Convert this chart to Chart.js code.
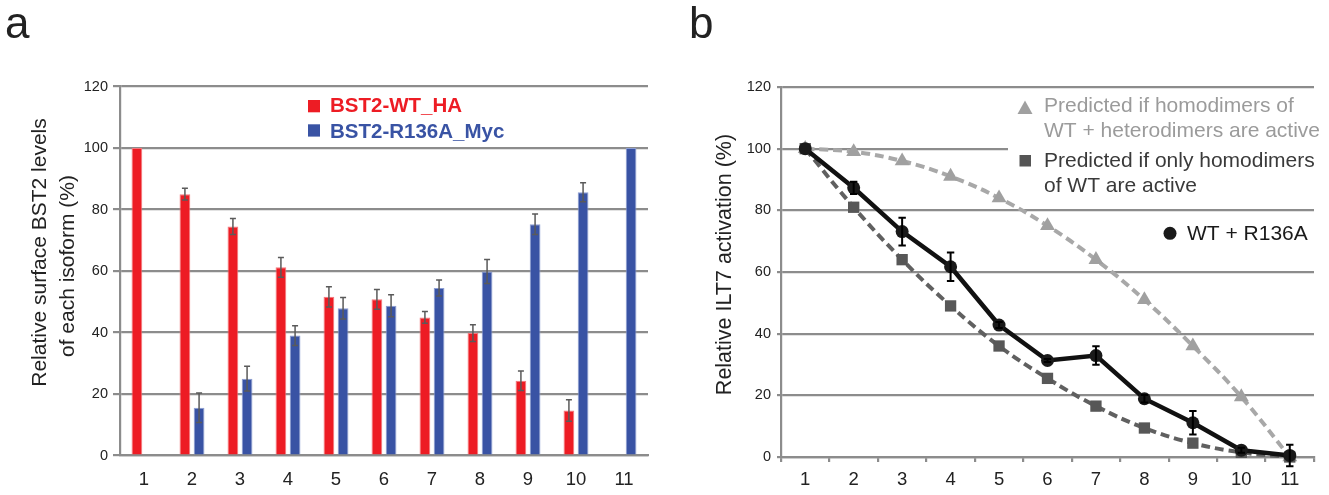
<!DOCTYPE html>
<html><head><meta charset="utf-8">
<script src="https://cdn.jsdelivr.net/npm/chart.js@4/dist/chart.umd.min.js"></script>
<style>
html,body{margin:0;padding:0;background:#fff;}
#wrap{position:relative;width:1329px;height:495px;overflow:hidden;background:#fff;}
.pane{position:absolute;top:0;height:495px;}
</style></head><body>
<div id="wrap">
<div class="pane" style="left:0;width:665px"><canvas id="ca"></canvas></div>
<div class="pane" style="left:665px;width:664px"><canvas id="cb"></canvas></div>
</div>
<script>
// ---- data ----
const categories = ['1','2','3','4','5','6','7','8','9','10','11'];
const yTicks = [0, 20, 40, 60, 80, 100, 120];

// panel a: relative surface BST2 levels (%)
const wtHA        = [100, 85, 74.5, 61.2, 51.6, 50.8, 44.9, 39.8, 24.3, 14.6, null];
const wtHAErr     = [0, 1.9, 2.6, 3.2, 3.3, 3.2, 1.9, 2.7, 3.2, 3.5, 0];
const r136aMyc    = [null, 15.5, 25, 39, 47.9, 48.7, 54.5, 59.8, 75.2, 85.6, 100];
const r136aMycErr = [0, 4.8, 4, 3.2, 3.5, 3.6, 2.6, 3.9, 3.3, 3.1, 0];

// panel b: relative ILT7 activation (%)
const hetActive   = [100, 99, 96, 91, 84, 75, 64, 51, 36, 19.5, 0];
const homoOnly    = [100, 81, 64, 49, 36, 25.5, 16.5, 9.4, 4.5, 1.5, 0];
const wtR136A     = [100, 87.3, 73.1, 61.7, 42.8, 31.3, 32.9, 18.9, 11.1, 2.2, 0.5];
const wtR136AErr  = [0, 2, 4.5, 4.6, 1, 0.5, 3, 1.2, 3.8, 0.8, 3.5];

const legendA = ['BST2-WT_HA', 'BST2-R136A_Myc'];
const legendB = [['Predicted if homodimers of', 'WT + heterodimers are active'],
                 ['Predicted if only homodimers', 'of WT are active'],
                 ['WT + R136A']];
const titleA = ['Relative surface BST2 levels', 'of each isoform (%)'];
const titleB = 'Relative ILT7 activation (%)';

// ---- styling ----
const FONT = '"Liberation Sans", Arial, Helvetica, sans-serif';
const GRID = '#8c8c8c';
Chart.defaults.font.family = FONT;
Chart.defaults.color = '#222';

const errorBars = {
  id: 'errorBars',
  afterDatasetsDraw(chart) {
    const ctx = chart.ctx, ys = chart.scales.y;
    chart.data.datasets.forEach((ds, di) => {
      if (!ds.errors) return;
      const meta = chart.getDatasetMeta(di);
      meta.data.forEach((el, i) => {
        const v = ds.data[i], e = ds.errors[i];
        if (v == null || !e) return;
        const x = el.x;
        const yt = ys.getPixelForValue(v + e), yb = ys.getPixelForValue(v - e);
        const c = ds.errorCap;
        ctx.save();
        ctx.strokeStyle = ds.errorColor;
        ctx.lineWidth = ds.errorWidth;
        ctx.beginPath();
        ctx.moveTo(x, yt); ctx.lineTo(x, yb);
        ctx.moveTo(x - c, yt); ctx.lineTo(x + c, yt);
        ctx.moveTo(x - c, yb); ctx.lineTo(x + c, yb);
        ctx.stroke();
        ctx.restore();
      });
    });
  }
};

function yScale(width, tickLen, pad) {
  return {
    min: 0, max: 120,
    afterBuildTicks: s => { s.ticks = yTicks.map(v => ({ value: v })); },
    afterFit: s => { s.width = width; },
    ticks: { font: { size: 14.5 }, color: '#222', padding: pad },
    grid: { color: GRID, lineWidth: 2.2, tickLength: tickLen, drawTicks: true },
    border: { color: GRID, width: 2.2 }
  };
}

// ---- panel a ----
const textA = {
  id: 'textA',
  afterDraw(chart) {
    const ctx = chart.ctx;
    ctx.save();
    ctx.fillStyle = '#222';
    ctx.font = '44px ' + FONT;
    ctx.textBaseline = 'alphabetic';
    ctx.textAlign = 'left';
    ctx.fillText('a', 5, 38);
    // y title
    ctx.font = '21px ' + FONT;
    ctx.textAlign = 'center';
    ctx.save(); ctx.translate(45.5, 252.5); ctx.rotate(-Math.PI / 2); ctx.fillText(titleA[0], 0, 0); ctx.restore();
    ctx.save(); ctx.translate(73.5, 266); ctx.rotate(-Math.PI / 2); ctx.fillText(titleA[1], 0, 0); ctx.restore();
    // legend
    const cols = ['#ed1c24', '#3953a4'];
    ctx.textAlign = 'left';
    ctx.font = 'bold 20.5px ' + FONT;
    [[100, 112.3], [124.3, 138.3]].forEach((p, i) => {
      ctx.fillStyle = cols[i];
      ctx.fillRect(308, p[0], 12, 12.3);
      ctx.fillText(legendA[i], 330, p[1]);
    });
    ctx.restore();
  }
};

new Chart(document.getElementById('ca'), {
  type: 'bar',
  data: {
    labels: categories,
    datasets: [
      { label: legendA[0], data: wtHA, errors: wtHAErr,
        backgroundColor: '#ed1c24', borderColor: '#f2777c', borderWidth: 1,
        errorColor: '#5a5a5a', errorWidth: 1.5, errorCap: 3,
        categoryPercentage: 0.59, barPercentage: 0.76 },
      { label: legendA[1], data: r136aMyc, errors: r136aMycErr,
        backgroundColor: '#3953a4', borderColor: '#8c9dd2', borderWidth: 1,
        errorColor: '#5a5a5a', errorWidth: 1.5, errorCap: 3,
        categoryPercentage: 0.59, barPercentage: 0.76 }
    ]
  },
  options: {
    responsive: true, maintainAspectRatio: false, animation: false,
    layout: { padding: { left: 0, right: 17, top: 86.5, bottom: 0 } },
    plugins: { legend: { display: false }, tooltip: { enabled: false } },
    scales: {
      x: {
        afterFit: s => { s.height = 39.5; },
        ticks: { font: { size: 18.5 }, color: '#222', padding: 13 },
        grid: { display: false, drawTicks: false },
        border: { color: GRID, width: 2.2 }
      },
      y: yScale(120, 7, 5)
    }
  },
  plugins: [errorBars, textA]
});

// ---- panel b ----
const OX = 665;
const textB = {
  id: 'textB',
  beforeDatasetsDraw(chart) {
    const ctx = chart.ctx;
    ctx.save();
    ctx.fillStyle = '#fff';
    ctx.fillRect(1008 - OX, 92, 664 - (1008 - OX), 108);
    ctx.restore();
  },
  afterDraw(chart) {
    const ctx = chart.ctx;
    ctx.save();
    ctx.fillStyle = '#222';
    ctx.font = '44px ' + FONT;
    ctx.textBaseline = 'alphabetic';
    ctx.textAlign = 'left';
    ctx.fillText('b', 689 - OX, 38);
    ctx.font = '21.5px ' + FONT;
    ctx.textAlign = 'center';
    ctx.save(); ctx.translate(730.5 - OX, 264.5); ctx.rotate(-Math.PI / 2); ctx.fillText(titleB, 0, 0); ctx.restore();
    // legend
    ctx.textAlign = 'left';
    ctx.font = '21px ' + FONT;
    // triangle
    ctx.fillStyle = '#a0a0a0';
    ctx.beginPath();
    ctx.moveTo(1025 - OX, 100.5); ctx.lineTo(1032.5 - OX, 114); ctx.lineTo(1017.5 - OX, 114); ctx.closePath(); ctx.fill();
    ctx.fillStyle = '#9b9b9b';
    ctx.fillText(legendB[0][0], 1044 - OX, 111.7);
    ctx.fillText(legendB[0][1], 1044 - OX, 136.7);
    // square
    ctx.fillStyle = '#555';
    ctx.fillRect(1019.5 - OX, 155, 11.5, 11.5);
    ctx.fillStyle = '#3a3a3a';
    ctx.fillText(legendB[1][0], 1044 - OX, 166.5);
    ctx.fillText(legendB[1][1], 1044 - OX, 191.7);
    // circle
    ctx.fillStyle = '#1a1a1a';
    ctx.beginPath(); ctx.arc(1170 - OX, 233.3, 6.5, 0, Math.PI * 2); ctx.fill();
    ctx.fillText(legendB[2][0], 1187 - OX, 240);
    ctx.restore();
  }
};

new Chart(document.getElementById('cb'), {
  type: 'line',
  data: {
    labels: categories,
    datasets: [
      { label: legendB[2][0], data: wtR136A, errors: wtR136AErr, order: 1,
        borderColor: '#111', borderWidth: 4.5, tension: 0,
        pointStyle: 'circle', pointRadius: 6.5, pointBackgroundColor: '#1a1a1a', pointBorderWidth: 0,
        errorColor: '#000', errorWidth: 2, errorCap: 3.7, clip: false },
      { label: 'homo', data: homoOnly, order: 2,
        borderColor: '#606060', borderWidth: 4, borderDash: [9, 5], tension: 0.4,
        pointStyle: 'rect', pointRadius: 8, pointBackgroundColor: '#575757', pointBorderWidth: 0, clip: false },
      { label: 'het', data: hetActive, order: 3,
        borderColor: '#a8a8a8', borderWidth: 4, borderDash: [9, 5], tension: 0.4,
        pointStyle: 'triangle', pointRadius: 8.6, pointBackgroundColor: '#a0a0a0', pointBorderWidth: 0, clip: false }
    ]
  },
  options: {
    responsive: true, maintainAspectRatio: false, animation: false,
    layout: { padding: { left: 0, right: 15, top: 87, bottom: 0 } },
    plugins: { legend: { display: false }, tooltip: { enabled: false } },
    scales: {
      x: {
        offset: true,
        afterFit: s => { s.height = 38; },
        ticks: { font: { size: 18.5 }, color: '#222', padding: 7 },
        grid: { display: true, drawOnChartArea: false, drawTicks: true, tickLength: 5, offset: true, color: GRID, lineWidth: 2.2 },
        border: { color: GRID, width: 2.2 }
      },
      y: yScale(116, 4, 6)
    }
  },
  plugins: [errorBars, textB]
});
</script>
</body></html>
